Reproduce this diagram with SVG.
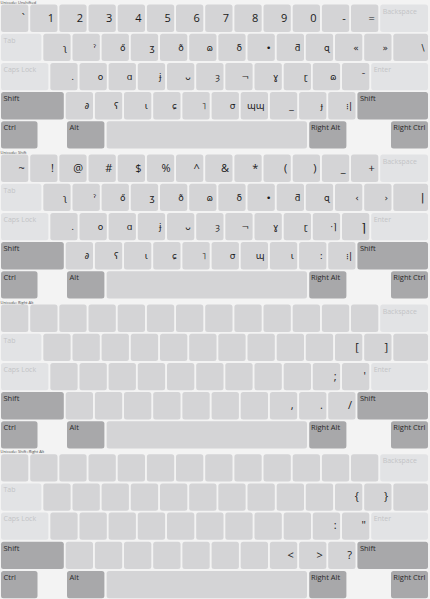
<svg xmlns="http://www.w3.org/2000/svg" xmlns:xlink="http://www.w3.org/1999/xlink" width="430" height="599" viewBox="0 0 430 599">
<style>
.k{fill:#d4d4d6}
.kl{fill:#e2e3e5}
.kd{fill:#a8a8aa}
.tl{font-family:"Open Sans","Noto Sans",sans-serif;font-size:7px;fill:#c2c3c5}
.td{font-family:"Open Sans","Noto Sans",sans-serif;font-size:7.5px;fill:#2a2a2a}
.cap{font-family:"Open Sans","Noto Sans",sans-serif;font-size:4px;fill:#444}
.d{font-family:"Open Sans","Noto Sans",sans-serif;font-size:11px;fill:#1a1a1a;text-anchor:end}
.s{font-family:"DejaVu Sans",sans-serif;font-size:9px;fill:#1a1a1a;text-anchor:end}
</style>
<defs>
<g id="kb">
<g id="row1">
<rect class="k" x="1" y="4.6" width="27.3" height="27.3" rx="2.5"/>
<rect class="k" x="30.2" y="4.6" width="27.3" height="27.3" rx="2.5"/>
<rect class="k" x="59.3" y="4.6" width="27.3" height="27.3" rx="2.5"/>
<rect class="k" x="88.5" y="4.6" width="27.3" height="27.3" rx="2.5"/>
<rect class="k" x="117.7" y="4.6" width="27.3" height="27.3" rx="2.5"/>
<rect class="k" x="146.9" y="4.6" width="27.3" height="27.3" rx="2.5"/>
<rect class="k" x="176" y="4.6" width="27.3" height="27.3" rx="2.5"/>
<rect class="k" x="205.2" y="4.6" width="27.3" height="27.3" rx="2.5"/>
<rect class="k" x="234.4" y="4.6" width="27.3" height="27.3" rx="2.5"/>
<rect class="k" x="263.5" y="4.6" width="27.3" height="27.3" rx="2.5"/>
<rect class="k" x="292.7" y="4.6" width="27.3" height="27.3" rx="2.5"/>
<rect class="k" x="321.9" y="4.6" width="27.3" height="27.3" rx="2.5"/>
<rect class="k" x="351" y="4.6" width="27.3" height="27.3" rx="2.5"/>
<rect class="kl" x="380.2" y="4.6" width="47.8" height="27.3" rx="2.5"/>
<text class="tl" x="382.7" y="13.6">Backspace</text>
</g>
<g id="row2">
<rect class="kl" x="1" y="33.8" width="40.4" height="27.3" rx="2.5"/>
<text class="tl" x="3.5" y="42.8">Tab</text>
<rect class="k" x="43.3" y="33.8" width="27.3" height="27.3" rx="2.5"/>
<rect class="k" x="72.5" y="33.8" width="27.3" height="27.3" rx="2.5"/>
<rect class="k" x="101.6" y="33.8" width="27.3" height="27.3" rx="2.5"/>
<rect class="k" x="130.8" y="33.8" width="27.3" height="27.3" rx="2.5"/>
<rect class="k" x="160" y="33.8" width="27.3" height="27.3" rx="2.5"/>
<rect class="k" x="189.2" y="33.8" width="27.3" height="27.3" rx="2.5"/>
<rect class="k" x="218.3" y="33.8" width="27.3" height="27.3" rx="2.5"/>
<rect class="k" x="247.5" y="33.8" width="27.3" height="27.3" rx="2.5"/>
<rect class="k" x="276.7" y="33.8" width="27.3" height="27.3" rx="2.5"/>
<rect class="k" x="305.8" y="33.8" width="27.3" height="27.3" rx="2.5"/>
<rect class="k" x="335" y="33.8" width="27.3" height="27.3" rx="2.5"/>
<rect class="k" x="364.2" y="33.8" width="27.3" height="27.3" rx="2.5"/>
<rect class="k" x="393.3" y="33.8" width="34.7" height="27.3" rx="2.5"/>
</g>
<g id="row3">
<rect class="kl" x="1" y="62.9" width="47.4" height="27.3" rx="2.5"/>
<text class="tl" x="3.5" y="71.9">Caps Lock</text>
<rect class="k" x="50.3" y="62.9" width="27.3" height="27.3" rx="2.5"/>
<rect class="k" x="79.5" y="62.9" width="27.3" height="27.3" rx="2.5"/>
<rect class="k" x="108.6" y="62.9" width="27.3" height="27.3" rx="2.5"/>
<rect class="k" x="137.8" y="62.9" width="27.3" height="27.3" rx="2.5"/>
<rect class="k" x="167" y="62.9" width="27.3" height="27.3" rx="2.5"/>
<rect class="k" x="196.2" y="62.9" width="27.3" height="27.3" rx="2.5"/>
<rect class="k" x="225.3" y="62.9" width="27.3" height="27.3" rx="2.5"/>
<rect class="k" x="254.5" y="62.9" width="27.3" height="27.3" rx="2.5"/>
<rect class="k" x="283.7" y="62.9" width="27.3" height="27.3" rx="2.5"/>
<rect class="k" x="312.8" y="62.9" width="27.3" height="27.3" rx="2.5"/>
<rect class="k" x="342" y="62.9" width="27.3" height="27.3" rx="2.5"/>
<rect class="kl" x="371.2" y="62.9" width="56.8" height="27.3" rx="2.5"/>
<text class="tl" x="373.7" y="71.9">Enter</text>
</g>
<g id="row4">
<rect class="kd" x="1" y="92.1" width="62.8" height="27.3" rx="2.5"/>
<text class="td" x="3.5" y="101.1">Shift</text>
<rect class="k" x="65.7" y="92.1" width="27.3" height="27.3" rx="2.5"/>
<rect class="k" x="94.9" y="92.1" width="27.3" height="27.3" rx="2.5"/>
<rect class="k" x="124" y="92.1" width="27.3" height="27.3" rx="2.5"/>
<rect class="k" x="153.2" y="92.1" width="27.3" height="27.3" rx="2.5"/>
<rect class="k" x="182.4" y="92.1" width="27.3" height="27.3" rx="2.5"/>
<rect class="k" x="211.6" y="92.1" width="27.3" height="27.3" rx="2.5"/>
<rect class="k" x="240.7" y="92.1" width="27.3" height="27.3" rx="2.5"/>
<rect class="k" x="269.9" y="92.1" width="27.3" height="27.3" rx="2.5"/>
<rect class="k" x="299.1" y="92.1" width="27.3" height="27.3" rx="2.5"/>
<rect class="k" x="328.2" y="92.1" width="27.3" height="27.3" rx="2.5"/>
<rect class="kd" x="357.4" y="92.1" width="70.6" height="27.3" rx="2.5"/>
<text class="td" x="359.9" y="101.1">Shift</text>
</g>
<g id="row5">
<rect class="kd" x="1" y="121.3" width="36.5" height="27.3" rx="2.5"/>
<text class="td" x="3.5" y="130.3">Ctrl</text>
<rect class="kd" x="67" y="121.3" width="37.4" height="27.3" rx="2.5"/>
<text class="td" x="69.5" y="130.3">Alt</text>
<rect class="k" x="106.6" y="121.3" width="200.4" height="27.3" rx="2.5"/>
<rect class="kd" x="309.2" y="121.3" width="37.2" height="27.3" rx="2.5"/>
<text class="td" x="311" y="130.3">Right Alt</text>
<rect class="kd" x="391" y="121.3" width="37" height="27.3" rx="2.5"/>
<text class="td" x="393.3" y="130.3">Right Ctrl</text>
</g>
</g>
</defs>
<rect width="430" height="599" fill="#f3f3f3"/>

<g id="layer-unshifted">
<text class="cap" x="0.5" y="3.6">Unicode: Unshifted</text>
<use xlink:href="#kb"/>
<g id="l1-row1">
<text class="d" x="24.8" y="21.6">`</text>
<text class="d" x="54" y="21.6">1</text>
<text class="d" x="83.1" y="21.6">2</text>
<text class="d" x="112.3" y="21.6">3</text>
<text class="d" x="141.5" y="21.6">4</text>
<text class="d" x="170.7" y="21.6">5</text>
<text class="d" x="199.8" y="21.6">6</text>
<text class="d" x="229" y="21.6">7</text>
<text class="d" x="258.2" y="21.6">8</text>
<text class="d" x="287.3" y="21.6">9</text>
<text class="d" x="316.5" y="21.6">0</text>
<text class="d" x="345.7" y="21.6">-</text>
<text class="d" x="374.8" y="21.6">=</text>
</g>
<g id="l1-row2">
<text class="s" x="67.1" y="50.8">ʅ</text>
<text class="s" x="96.3" y="50.8">ˀ</text>
<text class="s" x="125.4" y="50.8">ő</text>
<text class="s" x="154.6" y="50.8">ʒ</text>
<text class="s" x="183.8" y="50.8">ð</text>
<text class="s" x="213" y="50.8">ɷ</text>
<text class="s" x="242.1" y="50.8">δ</text>
<text class="s" x="271.3" y="50.8">•</text>
<text class="s" x="300.5" y="50.8">ƌ</text>
<text class="s" x="329.6" y="50.8">ɋ</text>
<text class="s" x="358.8" y="50.8">«</text>
<text class="s" x="388" y="50.8">»</text>
<text class="s" x="424.5" y="50.8">\</text>
</g>
<g id="l1-row3">
<text class="s" x="74.1" y="79.9">.</text>
<text class="s" x="103.3" y="79.9">ο</text>
<text class="s" x="132.4" y="79.9">ɑ</text>
<text class="s" x="161.6" y="79.9">ɉ</text>
<text class="s" x="190.8" y="79.9">ᴗ</text>
<text class="s" x="220" y="79.9">ȝ</text>
<text class="s" x="249.1" y="79.9">¬</text>
<text class="s" x="278.3" y="79.9">ɣ</text>
<text class="s" x="307.5" y="79.9">ɽ</text>
<text class="s" x="336.6" y="79.9">ɷ</text>
<text class="s" x="365.8" y="79.9">¯</text>
</g>
<g id="l1-row4">
<text class="s" x="89.5" y="109.1">∂</text>
<text class="s" x="118.7" y="109.1">ʕ</text>
<text class="s" x="147.8" y="109.1">ɩ</text>
<text class="s" x="177" y="109.1">ɕ</text>
<text class="s" x="206.2" y="109.1">˥</text>
<text class="s" x="235.4" y="109.1">σ</text>
<text class="s" x="264.5" y="109.1">ɰɰ</text>
<text class="s" x="293.7" y="109.1">_</text>
<text class="s" x="322.9" y="109.1">ɟ</text>
<text class="s" x="352" y="109.1">⁝|</text>
</g>
</g>

<g id="layer-shift" transform="translate(0,150)">
<text class="cap" x="0.5" y="3.6">Unicode: Shift</text>
<use xlink:href="#kb"/>
<g id="l2-row1">
<text class="d" x="24.8" y="21.6">~</text>
<text class="d" x="54" y="21.6">!</text>
<text class="d" x="83.1" y="21.6">@</text>
<text class="d" x="112.3" y="21.6">#</text>
<text class="d" x="141.5" y="21.6">$</text>
<text class="d" x="170.7" y="21.6">%</text>
<text class="d" x="199.8" y="21.6">^</text>
<text class="d" x="229" y="21.6">&amp;</text>
<text class="d" x="258.2" y="21.6">*</text>
<text class="d" x="287.3" y="21.6">(</text>
<text class="d" x="316.5" y="21.6">)</text>
<text class="d" x="345.7" y="21.6">_</text>
<text class="d" x="374.8" y="21.6">+</text>
</g>
<g id="l2-row2">
<text class="s" x="67.1" y="50.8">ʅ</text>
<text class="s" x="96.3" y="50.8">ˀ</text>
<text class="s" x="125.4" y="50.8">ő</text>
<text class="s" x="154.6" y="50.8">ʒ</text>
<text class="s" x="183.8" y="50.8">ð</text>
<text class="s" x="213" y="50.8">ɷ</text>
<text class="s" x="242.1" y="50.8">δ</text>
<text class="s" x="271.3" y="50.8">•</text>
<text class="s" x="300.5" y="50.8">ƌ</text>
<text class="s" x="329.6" y="50.8">ɋ</text>
<text class="s" x="358.8" y="50.8">‹</text>
<text class="s" x="388" y="50.8">›</text>
<text class="s" x="424.5" y="50.8" style="font-size:11px">|</text>
</g>
<g id="l2-row3">
<text class="s" x="74.1" y="79.9">.</text>
<text class="s" x="103.3" y="79.9">ο</text>
<text class="s" x="132.4" y="79.9">ɑ</text>
<text class="s" x="161.6" y="79.9">ɉ</text>
<text class="s" x="190.8" y="79.9">ᴗ</text>
<text class="s" x="220" y="79.9">ȝ</text>
<text class="s" x="249.1" y="79.9">¬</text>
<text class="s" x="278.3" y="79.9">ɣ</text>
<text class="s" x="307.5" y="79.9">ɽ</text>
<text class="s" x="336.6" y="79.9">·⌉</text>
<text class="s" x="365.8" y="81.5" style="font-size:12px">⌉</text>
</g>
<g id="l2-row4">
<text class="s" x="89.5" y="109.1">∂</text>
<text class="s" x="118.7" y="109.1">ʕ</text>
<text class="s" x="147.8" y="109.1">ɩ</text>
<text class="s" x="177" y="109.1">ɕ</text>
<text class="s" x="206.2" y="109.1">˥</text>
<text class="s" x="235.4" y="109.1">σ</text>
<text class="s" x="264.5" y="109.1">ɰ</text>
<text class="s" x="293.7" y="109.1">ι</text>
<text class="s" x="322.9" y="109.1">:</text>
<text class="s" x="352" y="109.1">⁝|</text>
</g>
</g>

<g id="layer-right-alt" transform="translate(0,300)">
<text class="cap" x="0.5" y="3.6">Unicode: Right Alt</text>
<use xlink:href="#kb"/>
<g id="l3-keys">
<text class="d" x="358.8" y="50.8">[</text>
<text class="d" x="388" y="50.8">]</text>
<text class="d" x="336.6" y="79.9">;</text>
<text class="d" x="365.8" y="79.9">'</text>
<text class="d" x="293.7" y="109.1">,</text>
<text class="d" x="322.9" y="109.1">.</text>
<text class="d" x="352" y="109.1">/</text>
</g>
</g>

<g id="layer-shift-right-alt" transform="translate(0,449.6)">
<text class="cap" x="0.5" y="3.6">Unicode: Shift+Right Alt</text>
<use xlink:href="#kb"/>
<g id="l4-keys">
<text class="d" x="358.8" y="50.8">{</text>
<text class="d" x="388" y="50.8">}</text>
<text class="d" x="336.6" y="79.9">:</text>
<text class="d" x="365.8" y="79.9">"</text>
<text class="d" x="293.7" y="109.1">&lt;</text>
<text class="d" x="322.9" y="109.1">&gt;</text>
<text class="d" x="352" y="109.1">?</text>
</g>
</g>
</svg>
